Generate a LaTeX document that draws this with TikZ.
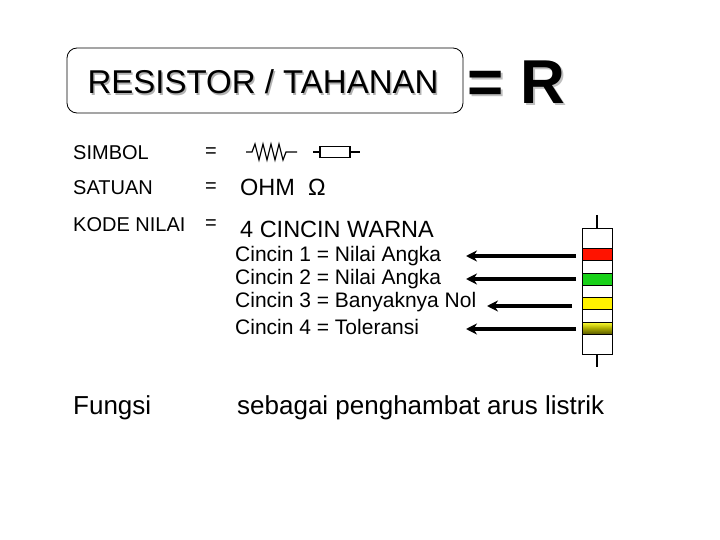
\documentclass[tikz,border=0pt]{standalone}
\usepackage{fontspec}
\setmainfont{Liberation Sans}
\usetikzlibrary{arrows.meta}
\begin{document}
\begin{tikzpicture}[x=1pt,y=-1pt,
 lbl/.style={anchor=west,inner sep=0pt,font=\fontsize{20}{20}\selectfont},
 big/.style={anchor=west,inner sep=0pt,font=\fontsize{23.5}{24}\selectfont},
 cin/.style={anchor=west,inner sep=0pt,font=\fontsize{21}{22}\selectfont},
 arr/.style={line width=3.5pt,-{Stealth[length=11pt,width=11pt]}}]
\useasboundingbox (0,0) rectangle (720,540);
\node[draw,rounded corners=10pt,minimum width=396pt,minimum height=65pt,line width=0.8pt] (box) at (265,80.5) {};
\node[inner sep=0pt,text=gray!60] at (264.5,83.5) {\fontsize{33}{33}\selectfont RESISTOR / TAHANAN};
\node[inner sep=0pt] (title) at (263,82) {\fontsize{33}{33}\selectfont RESISTOR / TAHANAN};
\node[inner sep=0pt,anchor=west,text=gray!50] at (469,84) {\fontsize{62}{62}\selectfont\bfseries = R};
\node[inner sep=0pt,anchor=west] (eqr) at (467,82) {\fontsize{62}{62}\selectfont\bfseries = R};
\node[lbl] (s1) at (73,153) {SIMBOL};
\node[lbl] (s2) at (73,188) {SATUAN};
\node[lbl] (s3) at (73,225) {KODE NILAI};
\node[lbl] (e1) at (205,153) {=};
\node[lbl] (e2) at (205,188) {=};
\node[lbl] (e3) at (205,225) {=};
\draw[line width=1.2pt] (246,152) -- (252,152) -- (255,144) -- (259,160) -- (263,144) -- (267,160) -- (271,144) -- (275,160) -- (279,144) -- (283,160) -- (286,152) -- (297,152);
\draw[line width=1.2pt] (313,152) -- (320,152) (350,152) -- (360,152);
\node[draw,line width=1.2pt,minimum width=30pt,minimum height=11pt,inner sep=0pt] (rsym) at (335,152) {};
\node[big] (ohm) at (240,187) {OHM\ \ Ω};
\node[big] (warna) at (240,229) {4 CINCIN WARNA};
\node[cin] (c1) at (235,256) {Cincin 1 = Nilai Angka};
\node[cin] (c2) at (235,279) {Cincin 2 = Nilai Angka};
\node[cin] (c3) at (235,302) {Cincin 3 = Banyaknya Nol};
\node[cin] (c4) at (235,327) {Cincin 4 = Toleransi};
\node[anchor=west,inner sep=0pt,font=\fontsize{26}{26}\selectfont] (f) at (73,408) {Fungsi};
\node[anchor=west,inner sep=0pt,font=\fontsize{26}{26}\selectfont] (fs) at (237,408) {sebagai penghambat arus listrik};
% resistor
\draw[line width=2.5pt] (597,215) -- (597,228) (597,354) -- (597,367);
\node[draw,line width=0.8pt,minimum width=30pt,minimum height=126pt,inner sep=0pt] (body) at (597,291) {};
\fill[red!85!orange,draw=black] (582,248) rectangle (612,260);
\fill[green!80!black!90,draw=black] (582,273) rectangle (612,285);
\fill[yellow,draw=black] (582,297) rectangle (612,309);
\shade[top color=yellow!80!white,bottom color=olive!70!black,draw=black] (582,322) rectangle (612,334);
\coordinate (a1) at (576,256); \coordinate (b1) at (466,256);
\coordinate (a2) at (576,279); \coordinate (b2) at (466,279);
\coordinate (a3) at (572,306); \coordinate (b3) at (487,306);
\coordinate (a4) at (576,329); \coordinate (b4) at (466,329);
\draw[arr] (a1) -- (b1);
\draw[arr] (a2) -- (b2);
\draw[arr] (a3) -- (b3);
\draw[arr] (a4) -- (b4);
\end{tikzpicture}
\end{document}
